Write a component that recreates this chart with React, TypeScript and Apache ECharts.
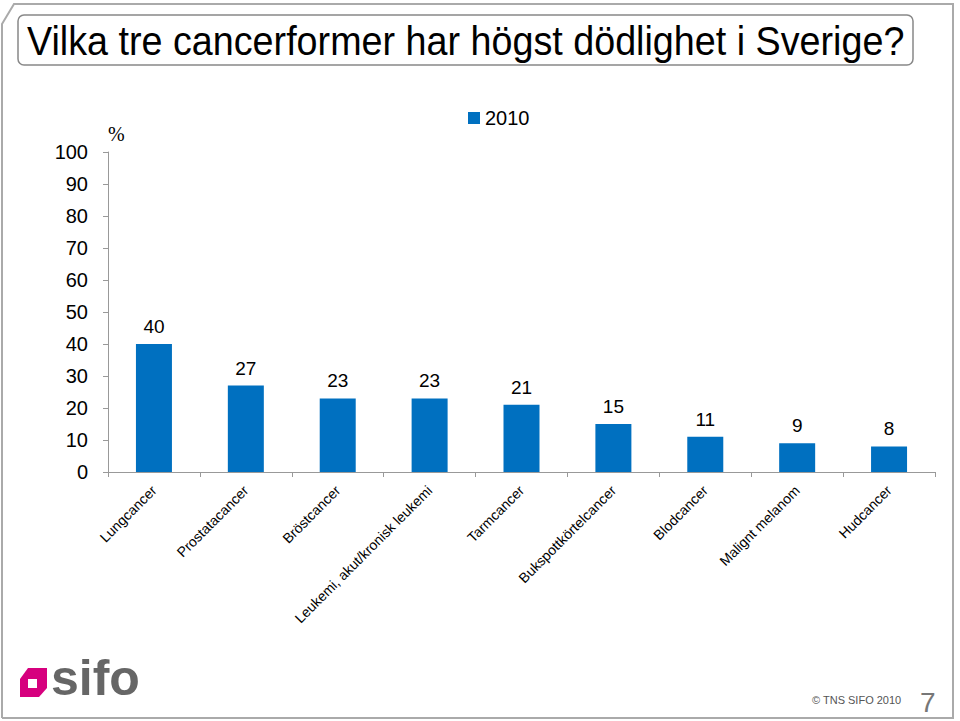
import React, { useEffect, useRef } from "react";
import * as echarts from "echarts";

const categories = [
  "Lungcancer",
  "Prostatacancer",
  "Bröstcancer",
  "Leukemi, akut/kronisk leukemi",
  "Tarmcancer",
  "Bukspottkörtelcancer",
  "Blodcancer",
  "Malignt melanom",
  "Hudcancer",
];
const values2010 = [40, 27, 23, 23, 21, 15, 11, 9, 8];
const seriesName = "2010";
const titleText = "Vilka tre cancerformer har högst dödlighet i Sverige?";

export default function App() {
  const ref = useRef<HTMLDivElement>(null);
  useEffect(() => {
    if (!ref.current) return;
    const chart = echarts.init(ref.current, null, { renderer: "svg" });
    const font = "Liberation Sans, Arial, sans-serif";
    chart.setOption({
      animation: false,
      backgroundColor: "#fff",
      textStyle: { fontFamily: font },
      grid: { left: 108, right: 25, top: 152, bottom: 249, containLabel: false },
      legend: {
        data: [seriesName],
        left: 463,
        top: 103,
        itemWidth: 12,
        itemHeight: 12,
        itemGap: 5,
        icon: "rect",
        textStyle: { fontSize: 20, color: "#000", fontFamily: font },
      },
      xAxis: {
        type: "category",
        data: categories,
        axisLine: { lineStyle: { color: "#999" } },
        axisTick: { show: true, length: 5, lineStyle: { color: "#999" } },
        axisLabel: {
          rotate: 45,
          interval: 0,
          fontSize: 14,
          color: "#000",
          margin: 16,
          fontFamily: font,
        },
      },
      yAxis: {
        type: "value",
        min: 0,
        max: 100,
        interval: 10,
        name: "%",
        nameLocation: "end",
        nameGap: 8,
        nameTextStyle: { fontSize: 20, color: "#000", align: "left", fontFamily: "Liberation Serif, serif", padding: [0, 0, 0, 0] },
        axisLine: { show: true, lineStyle: { color: "#999" } },
        axisTick: { show: true, length: 5, lineStyle: { color: "#999" } },
        splitLine: { show: false },
        axisLabel: { fontSize: 20, color: "#000", margin: 20, fontFamily: font },
      },
      series: [
        {
          name: seriesName,
          type: "bar",
          data: values2010,
          barWidth: 36,
          itemStyle: { color: "#0070C0" },
          label: {
            show: true,
            position: "top",
            distance: 8,
            fontSize: 19,
            color: "#000",
            fontFamily: font,
          },
        },
      ],
      graphic: [
        {
          type: "polyline",
          silent: true,
          shape: {
            points: [
              [2, 718],
              [2, 24],
              [14, 4],
              [953, 4],
              [953, 718],
              [2, 718],
            ],
          },
          style: { stroke: "#aaa", lineWidth: 2, fill: null },
        },
        {
          type: "rect",
          shape: { x: 18, y: 15, width: 895, height: 50, r: 6 },
          style: { fill: "#fff", stroke: "#888", lineWidth: 1.5 },
        },
        {
          type: "text",
          x: 27,
          y: 40,
          scaleX: 0.92,
          style: { text: titleText, fontSize: 41, fill: "#000", fontFamily: font, verticalAlign: "middle" },
        },
        {
          type: "polygon",
          shape: {
            points: [
              [20, 679],
              [28, 668],
              [47, 668],
              [47, 688],
              [39, 697],
              [20, 697],
            ],
          },
          style: { fill: "#D6007E" },
        },
        {
          type: "rect",
          shape: { x: 28, y: 679, width: 9, height: 9 },
          style: { fill: "#fff" },
        },
        {
          type: "text",
          left: 51,
          top: 653,
          style: { text: "sifo", fontSize: 50, fill: "#666", fontFamily: font, fontWeight: "bold" },
        },
        {
          type: "text",
          left: 812,
          top: 694,
          style: { text: "© TNS SIFO 2010", fontSize: 11, fill: "#555", fontFamily: font },
        },
        {
          type: "text",
          left: 920,
          top: 688,
          style: { text: "7", fontSize: 28, fill: "#777", fontFamily: font },
        },
      ],
    });
    return () => chart.dispose();
  }, []);
  return (
    <div
      ref={ref}
      style={{ position: "fixed", left: 0, top: 0, width: 960, height: 721 }}
    />
  );
}
